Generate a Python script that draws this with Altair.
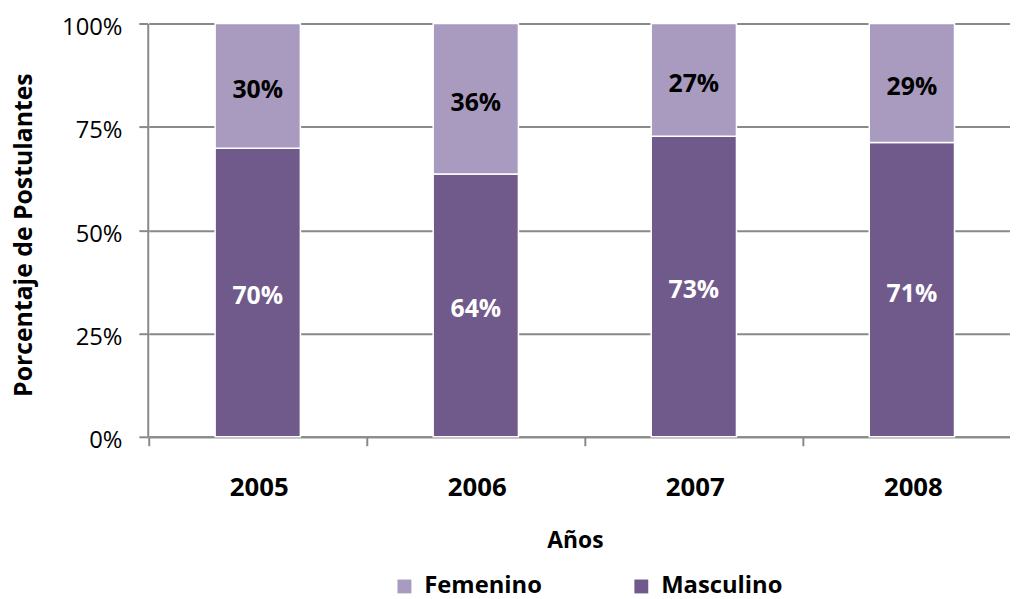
import altair as alt
import pandas as pd

anios = ["2005", "2006", "2007", "2008"]
masculino = [69.8, 63.6, 72.7, 71.2]
femenino = [30.2, 36.4, 27.3, 28.8]
series = ["Femenino", "Masculino"]
colores = ["#A99BBF", "#705A8C"]
y_ticks = [0, 25, 50, 75, 100]

rows = []
for a, m, f in zip(anios, masculino, femenino):
    rows.append({"anio": a, "sexo": "Masculino", "valor": m, "orden": 0})
    rows.append({"anio": a, "sexo": "Femenino", "valor": f, "orden": 1})
df = pd.DataFrame(rows)

FONT = "Open Sans"
GRAY = "#898989"

base = alt.Chart(df).transform_stack(
    stack="valor", groupby=["anio"], sort=[alt.SortField("orden")], as_=["y0", "y1"]
).transform_calculate(
    mid="(datum.y0 + datum.y1) / 2",
    lab="format(datum.valor, '.0f') + '%'"
)

x_scale = alt.Scale(range=[1, 881], paddingInner=0.609, paddingOuter=0.3045)

x_enc = alt.X(
    "anio:N",
    title="Años",
    sort=anios,
    scale=x_scale,
    axis=alt.Axis(
        labelAngle=0, labelFont=FONT, labelFontSize=26, labelFontWeight="bold",
        labelColor="black", labelBaseline="alphabetic", labelPadding=50,
        tickOffset=-110, labelOffset=111,
        tickSize=9, tickWidth=2, tickColor=GRAY,
        domainColor=GRAY, domainWidth=2, grid=False,
        titleFont=FONT, titleFontSize=23, titleFontWeight="bold", titleColor="black",
        titleX=431, titleY=112, titleBaseline="alphabetic", titleAlign="center",
    ),
)

y_scale = alt.Scale(domain=[0, 100], nice=False)

bars = base.mark_bar(stroke="white", strokeWidth=1.5).encode(
    x=x_enc,
    y=alt.Y(
        "y0:Q",
        scale=y_scale,
        title="Porcentaje de Postulantes",
        axis=alt.Axis(
            values=y_ticks, labelExpr="datum.value + '%'",
            grid=True, gridColor=GRAY, gridWidth=2,
            domainColor=GRAY, domainWidth=2,
            tickColor=GRAY, tickWidth=2, tickSize=9,
            labelPadding=17, labelFont=FONT, labelFontSize=24, labelColor="black",
            labelOffset=4,
            titleFont=FONT, titleFontSize=25, titleFontWeight="bold", titleColor="black",
            titleX=-125, titleY=213, titleAngle=270, titleBaseline="middle", titleAlign="center",
        ),
    ),
    y2="y1:Q",
    color=alt.Color(
        "sexo:N",
        scale=alt.Scale(domain=series, range=colores),
        legend=alt.Legend(
            title=None, orient="none", legendX=247, legendY=556,
            direction="horizontal", symbolType="square", symbolSize=196,
            symbolStrokeWidth=0, labelFont=FONT, labelFontSize=24,
            labelFontWeight="bold", labelColor="black", labelOffset=8,
            columnPadding=88, padding=0,
        ),
    ),
)

labels = base.mark_text(font=FONT, fontSize=25, fontWeight="bold", dy=4).encode(
    x=alt.X("anio:N", sort=anios, scale=x_scale),
    y=alt.Y("mid:Q", scale=y_scale),
    text="lab:N",
    color=alt.condition(alt.datum.sexo == "Masculino", alt.value("white"), alt.value("black")),
)

chart = (bars + labels).properties(
    width=870,
    height=417,
    autosize=alt.AutoSizeParams(type="none"),
    padding={"left": 141, "top": 13, "right": 0, "bottom": 161},
).configure_view(stroke=None)

chart.save("out.html", embed_options={"renderer": "svg", "actions": False})
